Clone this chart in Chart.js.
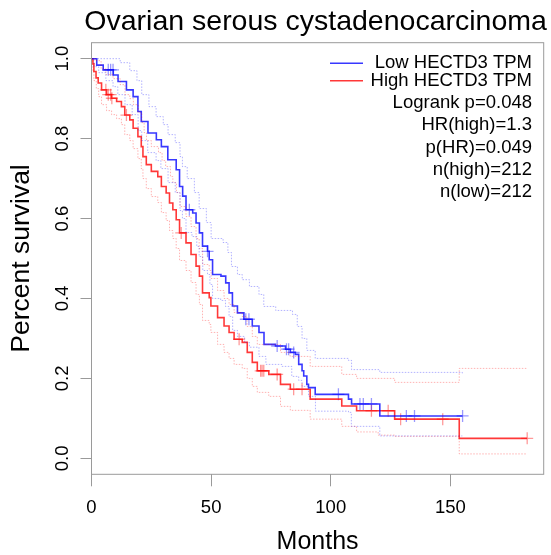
<!DOCTYPE html>
<html>
<head>
<meta charset="utf-8">
<script src="https://cdn.jsdelivr.net/npm/chart.js@4/dist/chart.umd.min.js"></script>
<style>
  html, body { margin: 0; padding: 0; background: #fff; }
  #wrap { width: 551px; height: 555px; }
</style>
</head>
<body>
<div id="wrap"><canvas id="km" width="551" height="555"></canvas></div>
<script>
// Kaplan-Meier steps: [months, survival after the drop]
const lowCurve = [[0,1],[2.2,0.984],[4.9,0.972],[9.1,0.959],[11.1,0.943],[14.6,0.922],[17.4,0.905],[19.4,0.868],[20.8,0.843],[23.6,0.814],[27.1,0.797],[29.2,0.78],[31.9,0.747],[35.4,0.722],[36.8,0.68],[38.1,0.656],[39.5,0.622],[42.3,0.614],[43.7,0.589],[45.1,0.564],[46.4,0.531],[48.5,0.518],[49.2,0.497],[50.6,0.46],[54.1,0.456],[56.1,0.439],[57.5,0.414],[58.9,0.381],[61,0.364],[63.7,0.348],[67.2,0.331],[70,0.315],[72.1,0.285],[76.9,0.281],[81.1,0.273],[83.1,0.265],[85.2,0.26],[86.6,0.235],[88,0.219],[88.7,0.206],[90,0.185],[90.7,0.177],[93.5,0.16],[107.4,0.148],[108.7,0.136],[120.5,0.106],[155.1,0.106]];
const highCurve = [[0,1],[0.6,0.987],[1,0.968],[1.9,0.952],[2.8,0.939],[4.2,0.922],[6.3,0.91],[8.4,0.901],[10.5,0.893],[12.5,0.88],[13.9,0.859],[16,0.847],[17.4,0.826],[19.4,0.805],[20.8,0.78],[21.5,0.755],[22.9,0.735],[25,0.718],[27.7,0.705],[29.2,0.68],[31.2,0.664],[32.6,0.639],[34,0.622],[35.4,0.597],[36.8,0.564],[39.5,0.539],[41.6,0.51],[43.7,0.481],[45.1,0.456],[46.4,0.414],[49.2,0.402],[49.9,0.381],[52.7,0.352],[55.4,0.331],[57.5,0.315],[59.6,0.298],[63,0.29],[65.1,0.265],[67.2,0.24],[69.3,0.219],[74.1,0.21],[79,0.185],[83.1,0.173],[91.4,0.148],[104.6,0.131],[110.8,0.119],[126.7,0.098],[153.7,0.05],[182.1,0.05]];

// confidence bands (dotted)
const lowUpper = [[0,1],[5,1],[12,0.99],[16,0.97],[19,0.945],[21,0.91],[24,0.88],[27,0.855],[30,0.835],[32,0.81],[35,0.79],[37,0.755],[38,0.73],[40,0.7],[43,0.665],[45,0.625],[48,0.59],[50,0.55],[55,0.54],[57,0.515],[58.5,0.48],[61,0.46],[63,0.447],[66,0.43],[70,0.41],[72,0.38],[77,0.37],[84,0.36],[86,0.33],[88,0.3],[90,0.27],[93.5,0.25],[107.4,0.245],[108.7,0.222],[120.5,0.215],[155,0.21]];
const lowLower = [[0,1],[1,0.98],[3,0.965],[6,0.945],[9,0.93],[11,0.91],[14,0.885],[17,0.86],[19.5,0.82],[21,0.795],[23.5,0.765],[27,0.745],[29,0.725],[32,0.69],[35,0.665],[37,0.62],[38,0.6],[39.5,0.565],[42,0.555],[44,0.53],[45,0.505],[46.5,0.47],[48.5,0.46],[49.5,0.435],[50.6,0.4],[54,0.395],[56,0.38],[57.5,0.355],[59,0.32],[61,0.305],[64,0.29],[66,0.278],[70,0.255],[72.9,0.235],[79.5,0.23],[83.7,0.205],[86.6,0.195],[88,0.18],[90.7,0.155],[93.6,0.118],[107.4,0.115],[108.6,0.08],[120.5,0.056],[155,0.056]];
const highUpper = [[0,1],[2,0.995],[4,0.975],[6,0.96],[9,0.95],[12,0.935],[14,0.91],[16,0.9],[17.5,0.885],[19.5,0.865],[21,0.84],[22,0.815],[23,0.795],[25,0.78],[28,0.765],[29.5,0.745],[31,0.73],[33,0.705],[34,0.69],[35.5,0.665],[37,0.63],[39.5,0.605],[41.6,0.58],[43.7,0.55],[45,0.525],[46.4,0.485],[49.2,0.47],[50,0.45],[52.7,0.42],[55.4,0.4],[57.5,0.385],[59.6,0.365],[63,0.355],[65,0.33],[67.2,0.305],[69.3,0.285],[79,0.265],[83,0.255],[91.4,0.23],[104.6,0.21],[110.8,0.2],[126.7,0.19],[153.7,0.225],[182,0.225]];
const highLower = [[0,1],[0.6,0.97],[1,0.945],[2,0.925],[3,0.905],[4.2,0.885],[6.3,0.87],[8.4,0.86],[10.5,0.85],[12.5,0.835],[13.9,0.81],[16,0.795],[17.4,0.775],[19.4,0.75],[20.8,0.725],[21.5,0.7],[22.9,0.675],[25,0.655],[27.7,0.64],[29.2,0.615],[31.2,0.595],[32.6,0.57],[34,0.55],[35.4,0.525],[36.8,0.495],[39.5,0.47],[41.6,0.44],[43.7,0.41],[45.1,0.385],[46.4,0.345],[49.2,0.335],[49.9,0.315],[52.7,0.285],[55.4,0.265],[57.5,0.25],[59.6,0.235],[63,0.225],[65.1,0.2],[67.2,0.18],[69.3,0.165],[74.1,0.155],[79,0.13],[83.1,0.12],[91.4,0.098],[104.6,0.08],[110.8,0.066],[119.8,0.058],[126.7,0.055],[153.7,0.011],[182,0.011]];

// censoring times ("+" marks)
const lowCensor = [7, 8, 9, 40.9, 48.5, 64.5, 65.8, 77.6, 81.5, 82.4, 84.5, 103.2, 112.2, 113.6, 117, 131.6, 135, 155.1];
const highCensor = [6, 7, 8, 8.5, 14.6, 37.5, 61.7, 70.7, 71.3, 72, 77.6, 84.5, 88, 117, 124, 129.2, 146.8, 182.1];

const xTicks = [0, 50, 100, 150];
const yTicks = [0, 0.2, 0.4, 0.6, 0.8, 1.0];
const legendLines = ['Logrank p=0.048', 'HR(high)=1.3', 'p(HR)=0.049', 'n(high)=212', 'n(low)=212'];

const FONT = '"Liberation Sans", Arial, Helvetica, sans-serif';
const GREY = '#9a9a9a';
const BLUE = 'rgba(0,0,255,0.78)';
const RED = 'rgba(255,0,0,0.78)';

const toXY = pts => pts.map(([x, y]) => ({ x, y }));
function survAt(curve, t) {
  let s = 1;
  curve.forEach(([ct, cs]) => { if (ct <= t) s = cs; });
  return s;
}

const stepLine = (data, color, width) => ({
  data: toXY(data), showLine: true, stepped: true, borderColor: color,
  borderWidth: width, pointRadius: 0, fill: false
});
const ciLine = (data, color) => ({
  data: toXY(data), showLine: true, stepped: true, borderColor: color,
  borderWidth: 1, borderDash: [1.5, 1.5], pointRadius: 0, fill: false
});
const marks = (times, curve, color) => ({
  data: times.map(t => ({ x: t, y: survAt(curve, t) })), showLine: false,
  pointStyle: 'cross', pointRadius: 6, pointBorderWidth: 1.3,
  pointBorderColor: color, pointBackgroundColor: color
});

// box, title, rotated y labels, legend
const decor = {
  id: 'decor',
  afterDraw(chart) {
    const { ctx, chartArea: a, scales } = chart;
    ctx.save();
    ctx.strokeStyle = GREY;
    ctx.lineWidth = 1;
    ctx.strokeRect(a.left, a.top, a.right - a.left, a.bottom - a.top);

    ctx.fillStyle = '#000';
    ctx.font = '28.5px ' + FONT;
    ctx.textAlign = 'center';
    ctx.textBaseline = 'middle';
    ctx.fillText('Ovarian serous cystadenocarcinoma', (a.left + a.right) / 2 - 2, 22);

    ctx.font = '18.5px ' + FONT;
    ctx.textBaseline = 'alphabetic';
    yTicks.forEach(v => {
      const y = scales.y.getPixelForValue(v);
      ctx.save();
      ctx.translate(68, y);
      ctx.rotate(-Math.PI / 2);
      ctx.fillText(v.toFixed(1), 0, 0);
      ctx.restore();
    });

    ctx.lineWidth = 1.5;
    [[BLUE, 63.3], [RED, 80.7]].forEach(([c, y]) => {
      ctx.strokeStyle = c;
      ctx.beginPath(); ctx.moveTo(330, y); ctx.lineTo(363, y); ctx.stroke();
    });
    ctx.textAlign = 'right';
    ctx.textBaseline = 'middle';
    ctx.fillText('Low HECTD3 TPM', 532, 63.3);
    ctx.fillText('High HECTD3 TPM', 532, 80.7);
    legendLines.forEach((t, i) => ctx.fillText(t, 532, 103.3 + i * 22.1));
    ctx.restore();
  }
};

new Chart(document.getElementById('km'), {
  type: 'scatter',
  data: {
    datasets: [
      ciLine(lowUpper, 'rgba(0,0,255,0.3)'),
      ciLine(lowLower, 'rgba(0,0,255,0.3)'),
      ciLine(highUpper, 'rgba(255,0,0,0.3)'),
      ciLine(highLower, 'rgba(255,0,0,0.3)'),
      stepLine(lowCurve, BLUE, 1.6),
      stepLine(highCurve, RED, 1.6),
      marks(lowCensor, lowCurve, 'rgba(0,0,255,0.4)'),
      marks(highCensor, highCurve, 'rgba(255,0,0,0.4)')
    ]
  },
  options: {
    responsive: false,
    animation: false,
    devicePixelRatio: 1,
    layout: { padding: { top: 42.7, right: 4.3, left: 0, bottom: 0 } },
    plugins: { legend: { display: false }, tooltip: { enabled: false }, title: { display: false } },
    scales: {
      x: {
        type: 'linear', min: 0, max: 189,
        afterBuildTicks: s => { s.ticks = xTicks.map(v => ({ value: v })); },
        afterFit: s => { s.height = 80.7; },
        grid: { drawOnChartArea: false, drawTicks: true, tickLength: 12, color: GREY },
        border: { display: false },
        ticks: { color: '#000', font: { family: FONT, size: 18.5 }, padding: 10.5, maxRotation: 0 },
        title: { display: true, text: 'Months', color: '#000', font: { family: FONT, size: 25, lineHeight: 1 }, padding: { top: 0, bottom: 0 } }
      },
      y: {
        type: 'linear', min: -0.04, max: 1.04,
        afterBuildTicks: s => { s.ticks = yTicks.map(v => ({ value: v })); },
        afterFit: s => { s.width = 91.5; },
        grid: { drawOnChartArea: false, drawTicks: true, tickLength: 11, color: GREY },
        border: { display: false },
        ticks: { display: false },
        title: { display: true, text: 'Percent survival', color: '#000', font: { family: FONT, size: 26.5, lineHeight: 1.2 }, padding: { top: 6, bottom: 0 } }
      }
    }
  },
  plugins: [decor]
});
</script>
</body>
</html>
